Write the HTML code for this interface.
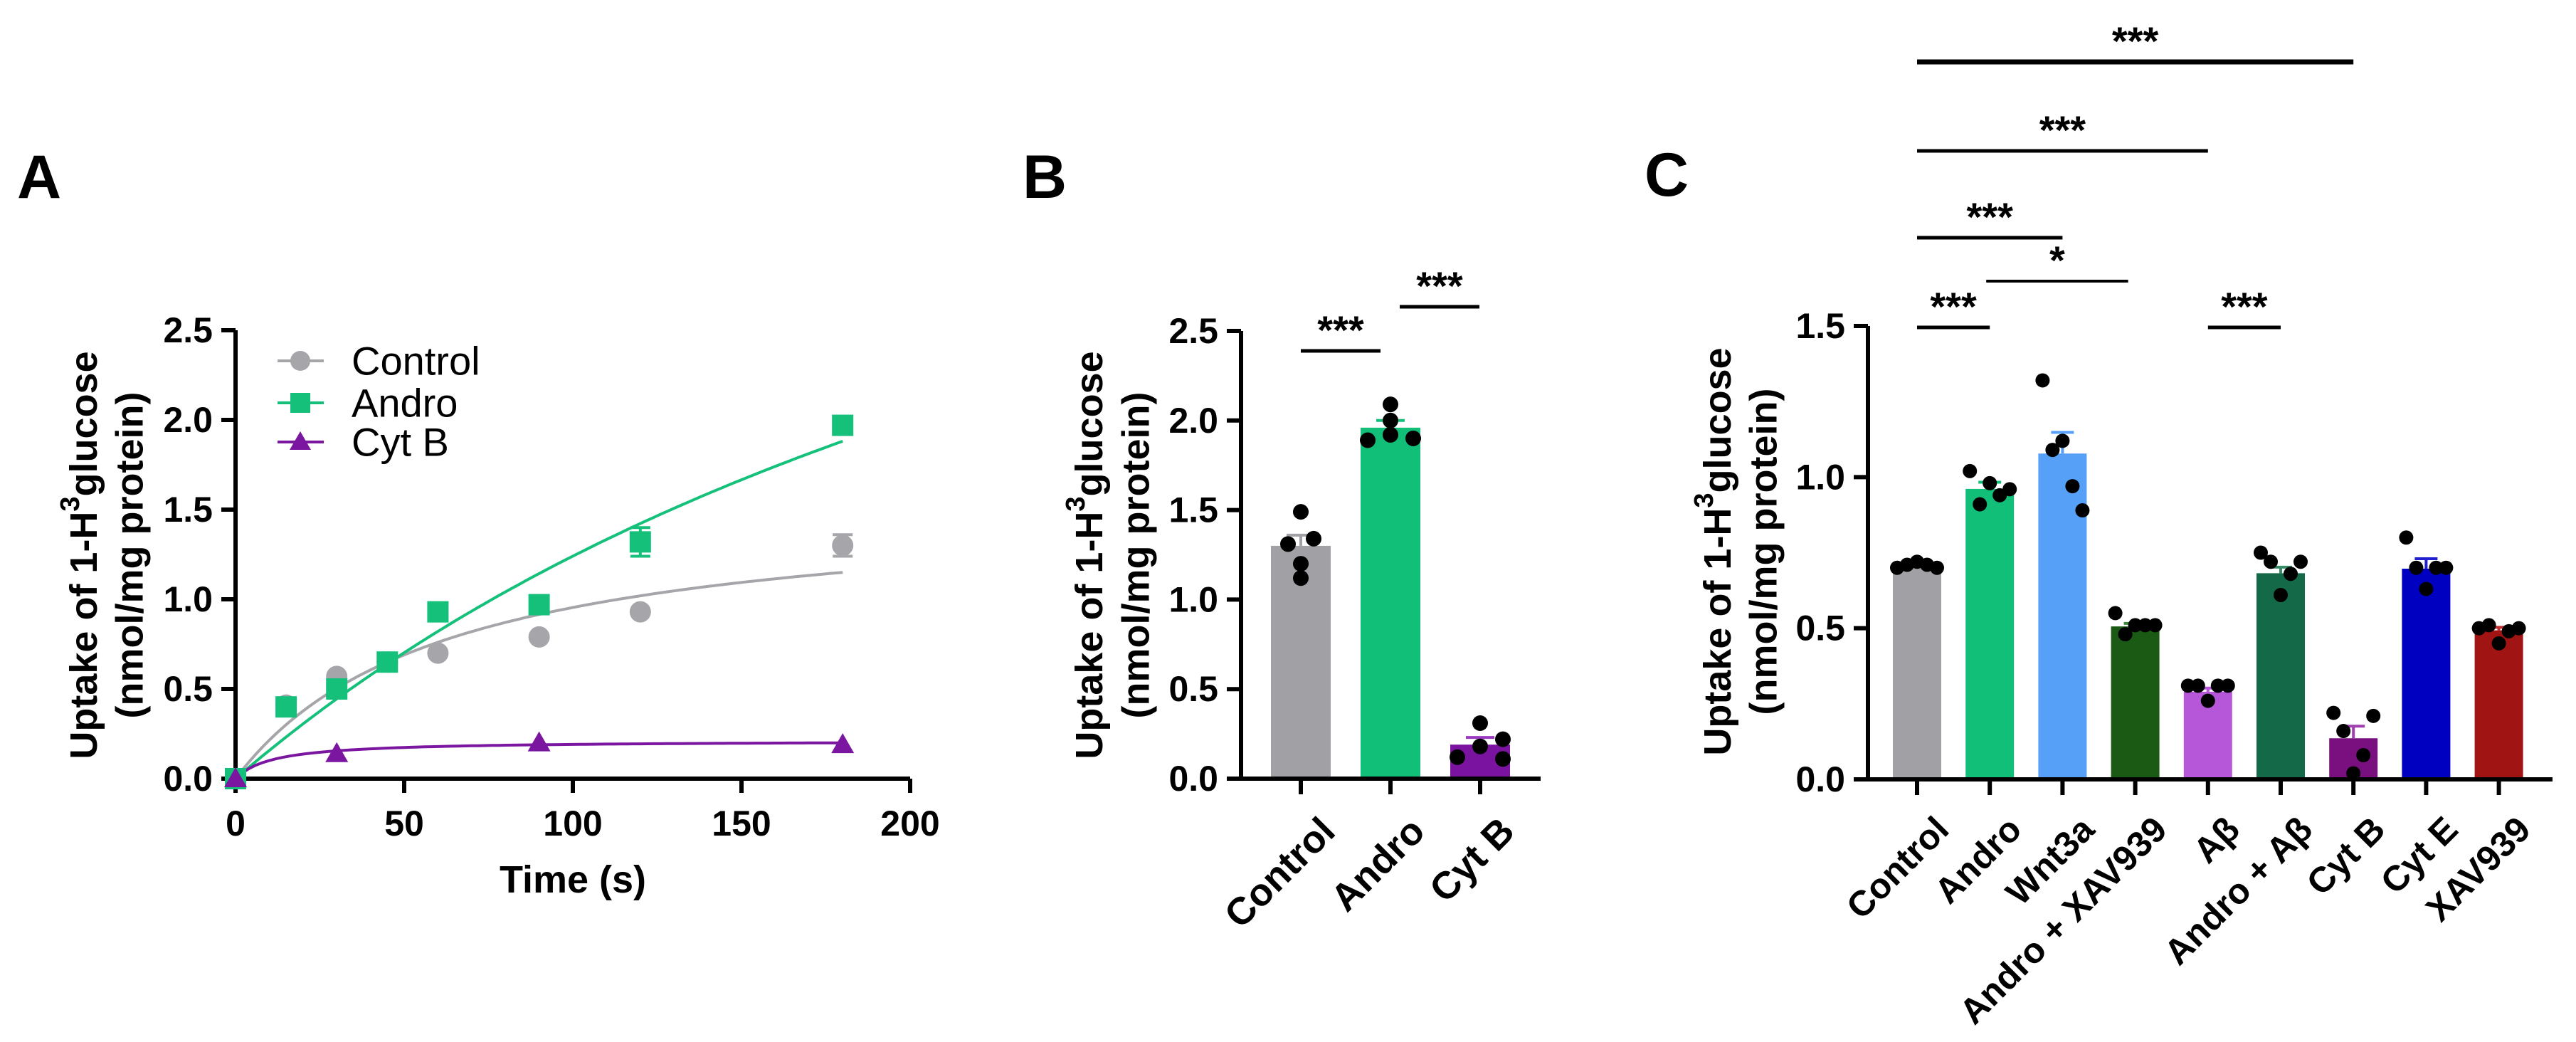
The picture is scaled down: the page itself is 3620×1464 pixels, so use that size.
<!DOCTYPE html>
<html><head><meta charset="utf-8"><style>
html,body{margin:0;padding:0;background:#fff;}
svg{display:block;font-family:"Liberation Sans",Arial,sans-serif;}
</style></head><body>
<svg id="fig" width="3620" height="1464" viewBox="0 0 3620 1464" xmlns="http://www.w3.org/2000/svg">
<g id="gA"></g>
<g id="gB"></g>
<g id="gC"></g>
</svg>
<script>
// ---------- Panel A data ----------
const aTimes = [0, 15, 30, 45, 60, 90, 120, 180];
const aControl = [0, 0.41, 0.57, 0.65, 0.70, 0.79, 0.93, 1.30];
const aControlErr = [0, 0, 0, 0, 0, 0, 0, 0.06];
const aAndro = [0, 0.40, 0.50, 0.65, 0.93, 0.97, 1.32, 1.97];
const aAndroErr = [0, 0, 0, 0, 0, 0, 0.08, 0];
const aCytTimes = [0, 30, 90, 180];
const aCytB = [0, 0.14, 0.20, 0.19];
const aFitVmax = [1.547, 5.31, 0.212];   // Michaelis-Menten fit params (Control, Andro, Cyt B)
const aFitKm = [62.1, 328, 11];
const aXTicks = [0, 50, 100, 150, 200];
const aYTicks = [0, 0.5, 1.0, 1.5, 2.0, 2.5];
// ---------- Panel B data ----------
const bCats = ["Control", "Andro", "Cyt B"];
const bMeans = [1.30, 1.96, 0.19];
const bErr = [0.06, 0.04, 0.04];
const bPoints = [[1.49, 1.31, 1.34, 1.20, 1.12], [2.09, 2.00, 1.89, 1.92, 1.90], [0.31, 0.18, 0.12, 0.22, 0.11]];
const bYTicks = [0, 0.5, 1.0, 1.5, 2.0, 2.5];
// ---------- Panel C data ----------
const cCats = ["Control", "Andro", "Wnt3a", "Andro + XAV939", "A\u03b2", "Andro + A\u03b2", "Cyt B", "Cyt E", "XAV939"];
const cMeans = [0.705, 0.961, 1.078, 0.506, 0.29, 0.682, 0.136, 0.697, 0.493];
const cErr = [0.005, 0.022, 0.07, 0.01, 0.012, 0.02, 0.04, 0.033, 0.01];
const cPoints = [[0.70,0.71,0.72,0.71,0.70],[1.02,0.91,0.98,0.94,0.96],[1.32,1.09,1.12,0.97,0.89],[0.55,0.48,0.51,0.51,0.51],[0.31,0.31,0.26,0.31,0.31],[0.75,0.72,0.61,0.68,0.72],[0.22,0.16,0.02,0.08,0.21],[0.80,0.70,0.63,0.70,0.70],[0.50,0.51,0.45,0.49,0.50]];
const cYTicks = [0, 0.5, 1.0, 1.5];

const NS = "http://www.w3.org/2000/svg";
function mk(parent, tag, attrs, text) {
  const e = document.createElementNS(NS, tag);
  for (const k in attrs) e.setAttribute(k, attrs[k]);
  if (text !== undefined) e.textContent = text;
  parent.appendChild(e);
  return e;
}
function yTitle(g, cx1, cx2, cy, name) {
  const t1 = mk(g, "text", {x: 0, y: 0, transform: `translate(${cx1},${cy}) rotate(-90)`, "text-anchor": "middle", "dominant-baseline": "middle", "font-size": 54, "font-weight": "bold", fill: "#000"});
  
  
  mk(t1, "tspan", {}, "Uptake of 1-H");
  mk(t1, "tspan", {"baseline-shift": "super", "font-size": 38}, "3");
  mk(t1, "tspan", {}, "glucose");
  const t2 = mk(g, "text", {x: 0, y: 0, transform: `translate(${cx2},${cy}) rotate(-90)`, "text-anchor": "middle", "dominant-baseline": "middle", "font-size": 54, "font-weight": "bold", fill: "#000"}, "(nmol/mg protein)");
  
  
}
function panelLabel(g, x, y, s, name) {
  const t = mk(g, "text", {x: x, y: y, "font-size": 86, "font-weight": "bold", fill: "#000"}, s);
  
  
}
function yAxis(g, x, yFn, ticks, xEnd, name) {
  const ax = mk(g, "line", {x1: x, x2: x, y1: yFn(ticks[ticks.length-1]), y2: yFn(0)+3, stroke: "#000", "stroke-width": 6});
  
  
  ticks.forEach(v => {
    const tk = mk(g, "line", {x1: x-20, x2: x, y1: yFn(v), y2: yFn(v), stroke: "#000", "stroke-width": 6});
    
    
    const tl = mk(g, "text", {x: x-32, y: yFn(v), "text-anchor": "end", "dominant-baseline": "central", "font-size": 50, "font-weight": "bold"}, v.toFixed(1));
    
    
  });
}
function sig(g, x1, x2, y, label, lw) {
  const l = mk(g, "line", {x1: x1, x2: x2, y1: y, y2: y, stroke: "#000", "stroke-width": lw});
  
  
  const t = mk(g, "text", {x: (x1+x2)/2, y: y-10, "text-anchor": "middle", "font-size": 56, "font-weight": "bold"}, label);
  
  
}

// ================= Panel A =================
(function(){
  const g = document.getElementById("gA");
  const X0 = 331, X1 = 1279, Y0 = 1094, Y1 = 464;
  const xs = t => X0 + (t/200)*(X1-X0);
  const ys = v => Y0 - (v/2.5)*(Y0-Y1);
  panelLabel(g, 24, 278, "A", "panel-a-label");
  yAxis(g, X0, ys, aYTicks, X1, "a-y-axis");
  const xa = mk(g, "line", {x1: X0-3, x2: X1, y1: Y0, y2: Y0, stroke: "#000", "stroke-width": 6});
  
  
  aXTicks.forEach(t => {
    const tk = mk(g, "line", {x1: xs(t), x2: xs(t), y1: Y0, y2: Y0+20, stroke: "#000", "stroke-width": 6});
    
    
    const tl = mk(g, "text", {x: xs(t), y: Y0+80, "text-anchor": "middle", "font-size": 50, "font-weight": "bold"}, String(t));
    
    
  });
  const xt = mk(g, "text", {x: (X0+X1)/2, y: 1254, "text-anchor": "middle", "font-size": 54, "font-weight": "bold"}, "Time (s)");
  
  
  yTitle(g, 122, 186, 780, "a-y-axis-title");
  const colors = ["#a5a5aa", "#14c07a", "#7a16a0"];
  const fitNames = ["control-fit", "andro-fit", "cytb-fit"];
  for (let i = 0; i < 3; i++) {
    let d = "";
    for (let t = 0; t <= 180; t += 2) {
      const v = aFitVmax[i]*t/(aFitKm[i]+t);
      d += (t === 0 ? "M" : "L") + xs(t).toFixed(1) + "," + ys(v).toFixed(1);
    }
    const p = mk(g, "path", {d: d, fill: "none", stroke: colors[i], "stroke-width": 4});
    
    
  }
  function errBar(x, v, e, c) {
    if (!e) return;
    const l = mk(g, "path", {d: `M${x},${ys(v+e)}V${ys(v-e)}M${x-14},${ys(v+e)}H${x+14}M${x-14},${ys(v-e)}H${x+14}`, stroke: c, "stroke-width": 4, fill: "none"});
    
    
  }
  aTimes.forEach((t, i) => {
    errBar(xs(t), aControl[i], aControlErr[i], colors[0]);
    const c = mk(g, "circle", {cx: xs(t), cy: ys(aControl[i]), r: 15, fill: colors[0]});
    
    
  });
  aTimes.forEach((t, i) => {
    errBar(xs(t), aAndro[i], aAndroErr[i], colors[1]);
    const r = mk(g, "rect", {x: xs(t)-15, y: ys(aAndro[i])-15, width: 30, height: 30, fill: colors[1]});
    
    
  });
  aCytTimes.forEach((t, i) => {
    const x = xs(t), y = ys(aCytB[i]);
    const p = mk(g, "polygon", {points: `${x},${y-16} ${x-16},${y+12} ${x+16},${y+12}`, fill: colors[2]});
    
    
  });
  const names = ["Control", "Andro", "Cyt B"];
  const ly = [507, 566, 621];
  names.forEach((n, i) => {
    const lg = mk(g, "g", {});
    
    
    mk(lg, "line", {x1: 390, x2: 455, y1: ly[i], y2: ly[i], stroke: colors[i], "stroke-width": 4});
    if (i === 0) mk(lg, "circle", {cx: 422, cy: ly[i], r: 14, fill: colors[i]});
    if (i === 1) mk(lg, "rect", {x: 408, y: ly[i]-14, width: 28, height: 28, fill: colors[i]});
    if (i === 2) mk(lg, "polygon", {points: `422,${ly[i]-15} 407,${ly[i]+11} 437,${ly[i]+11}`, fill: colors[i]});
    mk(lg, "text", {x: 494, y: ly[i], "dominant-baseline": "central", "font-size": 56}, n);
  });
})();

// ================= Panel B =================
(function(){
  const g = document.getElementById("gB");
  const X0 = 1744, XE = 2165, Y0 = 1094, Y1 = 465;
  const ys = v => Y0 - (v/2.5)*(Y0-Y1);
  const xc = i => 1828 + i*126;
  const colors = ["#a0a0a5", "#12bf78", "#7a14a0"];
  const ecol = ["#a0a0a5", "#12bf78", "#9a3ac0"];
  panelLabel(g, 1437, 278, "B", "panel-b-label");
  const jit = [[0, -18, 18, 0, 0], [0, 0, -32, 0, 32], [0, 0, -32, 32, 32]];
  bCats.forEach((c, i) => {
    const r = mk(g, "rect", {x: xc(i)-42, y: ys(bMeans[i]), width: 84, height: Y0-ys(bMeans[i]), fill: colors[i]});
    
    
    const e = mk(g, "path", {d: `M${xc(i)},${ys(bMeans[i])}V${ys(bMeans[i]+bErr[i])}M${xc(i)-20},${ys(bMeans[i]+bErr[i])}H${xc(i)+20}`, stroke: ecol[i], "stroke-width": 4, fill: "none"});
    
    
    bPoints[i].forEach((v, j) => {
      const p = mk(g, "circle", {cx: xc(i) + jit[i][j], cy: ys(v), r: 11, fill: "#000"});
      
      
    });
  });
  yAxis(g, X0, ys, bYTicks, XE, "b-y-axis");
  const xa = mk(g, "line", {x1: X0-3, x2: XE, y1: Y0, y2: Y0, stroke: "#000", "stroke-width": 6});
  
  
  bCats.forEach((c, i) => {
    const tk = mk(g, "line", {x1: xc(i), x2: xc(i), y1: Y0, y2: Y0+22, stroke: "#000", "stroke-width": 6});
    
    
    const t = mk(g, "text", {x: 0, y: 0, transform: `translate(${xc(i)+24},${Y0+50}) rotate(-45)`, "text-anchor": "end", "dominant-baseline": "hanging", "font-size": 54, "font-weight": "bold"}, c);
    
    
  });
  yTitle(g, 1535, 1600, 780, "b-y-axis-title");
  sig(g, 1828, 1940, 493, "***", 5);
  sig(g, 1967, 2079, 431, "***", 5);
})();

// ================= Panel C =================
(function(){
  const g = document.getElementById("gC");
  const X0 = 2625, XE = 3587, Y0 = 1095, Y1 = 458;
  const ys = v => Y0 - (v/1.5)*(Y0-Y1);
  const xc = i => 2694 + i*102.2;
  const colors = ["#a0a0a5", "#12bf78", "#56a0f8", "#1a5a14", "#b656d8", "#146a48", "#7a1080", "#0000c0", "#a01414"];
  const ecol = ["#a0a0a5", "#12bf78", "#56a0f8", "#3a8a34", "#b656d8", "#3a8a68", "#a040b0", "#2020d0", "#c03030"];
  panelLabel(g, 2311, 275, "C", "panel-c-label");
  const offs = [-28, -14, 0, 14, 28];
  cCats.forEach((c, i) => {
    const r = mk(g, "rect", {x: xc(i)-34, y: ys(cMeans[i]), width: 68, height: Y0-ys(cMeans[i]), fill: colors[i]});
    
    
    const e = mk(g, "path", {d: `M${xc(i)},${ys(cMeans[i])}V${ys(cMeans[i]+cErr[i])}M${xc(i)-16},${ys(cMeans[i]+cErr[i])}H${xc(i)+16}`, stroke: ecol[i], "stroke-width": 4, fill: "none"});
    
    
    cPoints[i].forEach((v, j) => {
      const p = mk(g, "circle", {cx: xc(i) + offs[j], cy: ys(v), r: 10, fill: "#000"});
      
      
    });
  });
  yAxis(g, X0, ys, cYTicks, XE, "c-y-axis");
  const xa = mk(g, "line", {x1: X0-3, x2: XE, y1: Y0, y2: Y0, stroke: "#000", "stroke-width": 6});
  
  
  cCats.forEach((c, i) => {
    const tk = mk(g, "line", {x1: xc(i), x2: xc(i), y1: Y0, y2: Y0+22, stroke: "#000", "stroke-width": 6});
    
    
    const t = mk(g, "text", {x: 0, y: 0, transform: `translate(${xc(i)+22},${Y0+48}) rotate(-45)`, "text-anchor": "end", "dominant-baseline": "hanging", "font-size": 50, "font-weight": "bold"}, c);
    
    
  });
  yTitle(g, 2418, 2482, 775, "c-y-axis-title");
  sig(g, xc(0), xc(6), 87, "***", 7);
  sig(g, xc(0), xc(4), 212, "***", 5);
  sig(g, xc(0), xc(2), 334, "***", 5);
  sig(g, xc(1)-5, xc(3)-10, 395, "*", 4);
  sig(g, xc(0), xc(1), 460, "***", 5);
  sig(g, xc(4), xc(5), 460, "***", 5);
})();
</script>
</body></html>
